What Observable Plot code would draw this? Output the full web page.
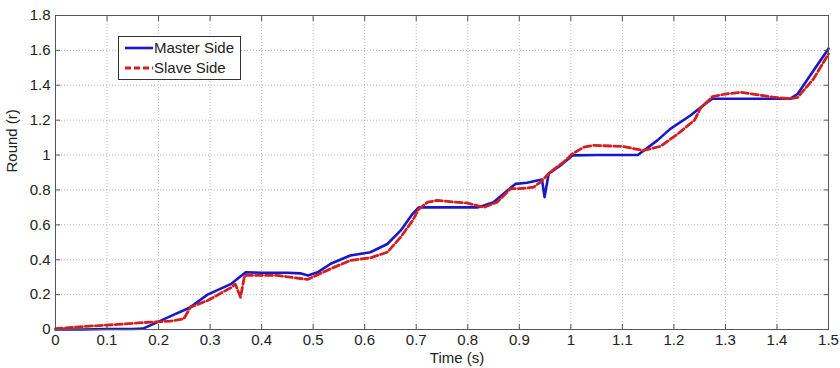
<!DOCTYPE html>
<html>
<head>
<meta charset="utf-8">
<script src="https://cdn.jsdelivr.net/npm/d3@7"></script>
<script src="https://cdn.jsdelivr.net/npm/@observablehq/plot@0.6"></script>
<style>
  html, body { margin: 0; padding: 0; background: #fff; }
  #wrap { position: relative; width: 840px; height: 368px; }
  #legend { position: absolute; left: 118px; top: 36px; }
</style>
</head>
<body>
<div id="wrap"></div>
<script>
// ---- data ----
const seriesNames = ["Master Side", "Slave Side"];
const xTicks = [0, 0.1, 0.2, 0.3, 0.4, 0.5, 0.6, 0.7, 0.8, 0.9, 1, 1.1, 1.2, 1.3, 1.4, 1.5];
const yTicks = [0, 0.2, 0.4, 0.6, 0.8, 1, 1.2, 1.4, 1.6, 1.8];

const masterTime = [0, 0.05, 0.1, 0.15, 0.17, 0.2, 0.23, 0.26, 0.295, 0.34, 0.369, 0.4, 0.45, 0.475, 0.49, 0.51, 0.534, 0.572, 0.611, 0.644, 0.67, 0.693, 0.705, 0.75, 0.82, 0.85, 0.877, 0.893, 0.915, 0.935, 0.944, 0.949, 0.957, 0.98, 1.003, 1.05, 1.1, 1.13, 1.168, 1.193, 1.232, 1.265, 1.275, 1.35, 1.426, 1.44, 1.471, 1.5];
const masterRound = [0, 0, 0.003, 0.003, 0.005, 0.045, 0.085, 0.125, 0.2, 0.26, 0.328, 0.325, 0.325, 0.322, 0.31, 0.33, 0.377, 0.424, 0.443, 0.49, 0.568, 0.663, 0.70, 0.70, 0.70, 0.73, 0.797, 0.835, 0.841, 0.854, 0.86, 0.759, 0.893, 0.94, 0.998, 1.0, 1.0, 1.0, 1.084, 1.15, 1.227, 1.303, 1.323, 1.323, 1.323, 1.35, 1.485, 1.61];

const slaveTime = [0, 0.054, 0.12, 0.184, 0.223, 0.249, 0.262, 0.295, 0.34, 0.349, 0.359, 0.367, 0.4, 0.43, 0.489, 0.534, 0.572, 0.611, 0.644, 0.67, 0.693, 0.705, 0.722, 0.741, 0.8, 0.831, 0.857, 0.883, 0.902, 0.928, 0.941, 0.96, 0.986, 1.003, 1.025, 1.044, 1.1, 1.14, 1.174, 1.207, 1.24, 1.252, 1.275, 1.3, 1.33, 1.393, 1.426, 1.44, 1.471, 1.5];
const slaveRound = [0.005, 0.017, 0.029, 0.042, 0.048, 0.061, 0.128, 0.166, 0.239, 0.26, 0.185, 0.31, 0.31, 0.31, 0.287, 0.348, 0.396, 0.411, 0.443, 0.53, 0.625, 0.69, 0.73, 0.74, 0.724, 0.70, 0.73, 0.807, 0.807, 0.816, 0.845, 0.902, 0.96, 1.007, 1.045, 1.055, 1.05, 1.026, 1.05, 1.12, 1.2, 1.27, 1.335, 1.35, 1.36, 1.332, 1.323, 1.33, 1.437, 1.58];

const master = masterTime.map((t, i) => ({t, r: masterRound[i]}));
const slave = slaveTime.map((t, i) => ({t, r: slaveRound[i]}));

const blue = "#1818c8";
const red = "#d22020";
const fmt = d => d3.format("~g")(d);
const font = "'Liberation Sans', Arial, Helvetica, sans-serif";

const chart = Plot.plot({
  width: 840,
  height: 368,
  marginLeft: 55,
  marginRight: 12,
  marginTop: 15,
  marginBottom: 39,
  x: {domain: [0, 1.5], label: null},
  y: {domain: [0, 1.8], label: null},
  style: {fontFamily: font, fontSize: "15px", background: "#fff", color: "#222", overflow: "visible"},
  marks: [
    Plot.gridX(xTicks, {stroke: "#b8b8b8", strokeOpacity: 1, strokeDasharray: "1,2"}),
    Plot.gridY(yTicks, {stroke: "#b8b8b8", strokeOpacity: 1, strokeDasharray: "1,2"}),
    Plot.line(master, {x: "t", y: "r", stroke: blue, strokeWidth: 2.6}),
    Plot.line(slave, {x: "t", y: "r", stroke: red, strokeWidth: 2.8, strokeDasharray: "7,3"}),
    Plot.frame({stroke: "#555"}),
    Plot.axisX(xTicks, {anchor: "bottom", tickSize: 0, tickPadding: 5, tickFormat: fmt, label: null, fill: "#222"}),
    Plot.axisX(xTicks, {anchor: "bottom", tickSize: -5, fill: "none", label: null, stroke: "#555"}),
    Plot.axisX(xTicks, {anchor: "top", tickSize: -5, fill: "none", label: null, stroke: "#555"}),
    Plot.axisY(yTicks, {anchor: "left", tickSize: 0, tickPadding: 5, tickFormat: fmt, label: null, fill: "#222"}),
    Plot.axisY(yTicks, {anchor: "left", tickSize: -5, fill: "none", label: null, stroke: "#555"}),
    Plot.axisY(yTicks, {anchor: "right", tickSize: -5, fill: "none", label: null, stroke: "#555"}),
    Plot.text(["Time (s)"], {frameAnchor: "bottom", dx: 15, dy: 33, fill: "#222", fontSize: 15}),
    Plot.text(["Round (r)"], {frameAnchor: "left", rotate: -90, dx: -43, fill: "#222", fontSize: 15})
  ]
});

const wrap = document.getElementById("wrap");
wrap.appendChild(chart);

// legend (inside the plot area, as in the original)
const ns = "http://www.w3.org/2000/svg";
const leg = document.createElementNS(ns, "svg");
leg.setAttribute("id", "legend");
leg.setAttribute("width", 124);
leg.setAttribute("height", 45);
leg.innerHTML = `
  <rect x="0.5" y="0.5" width="122" height="43" fill="#fff" stroke="#333" stroke-width="1"/>
  <line x1="7" x2="35" y1="12" y2="12" stroke="${blue}" stroke-width="2.6"/>
  <line x1="7" x2="35" y1="32" y2="32" stroke="${red}" stroke-width="2.8" stroke-dasharray="6,3"/>
  <text x="36" y="17" font-family="${font}" font-size="15" fill="#222">${seriesNames[0]}</text>
  <text x="36" y="37" font-family="${font}" font-size="15" fill="#222">${seriesNames[1]}</text>
`;
wrap.appendChild(leg);
</script>
</body>
</html>
